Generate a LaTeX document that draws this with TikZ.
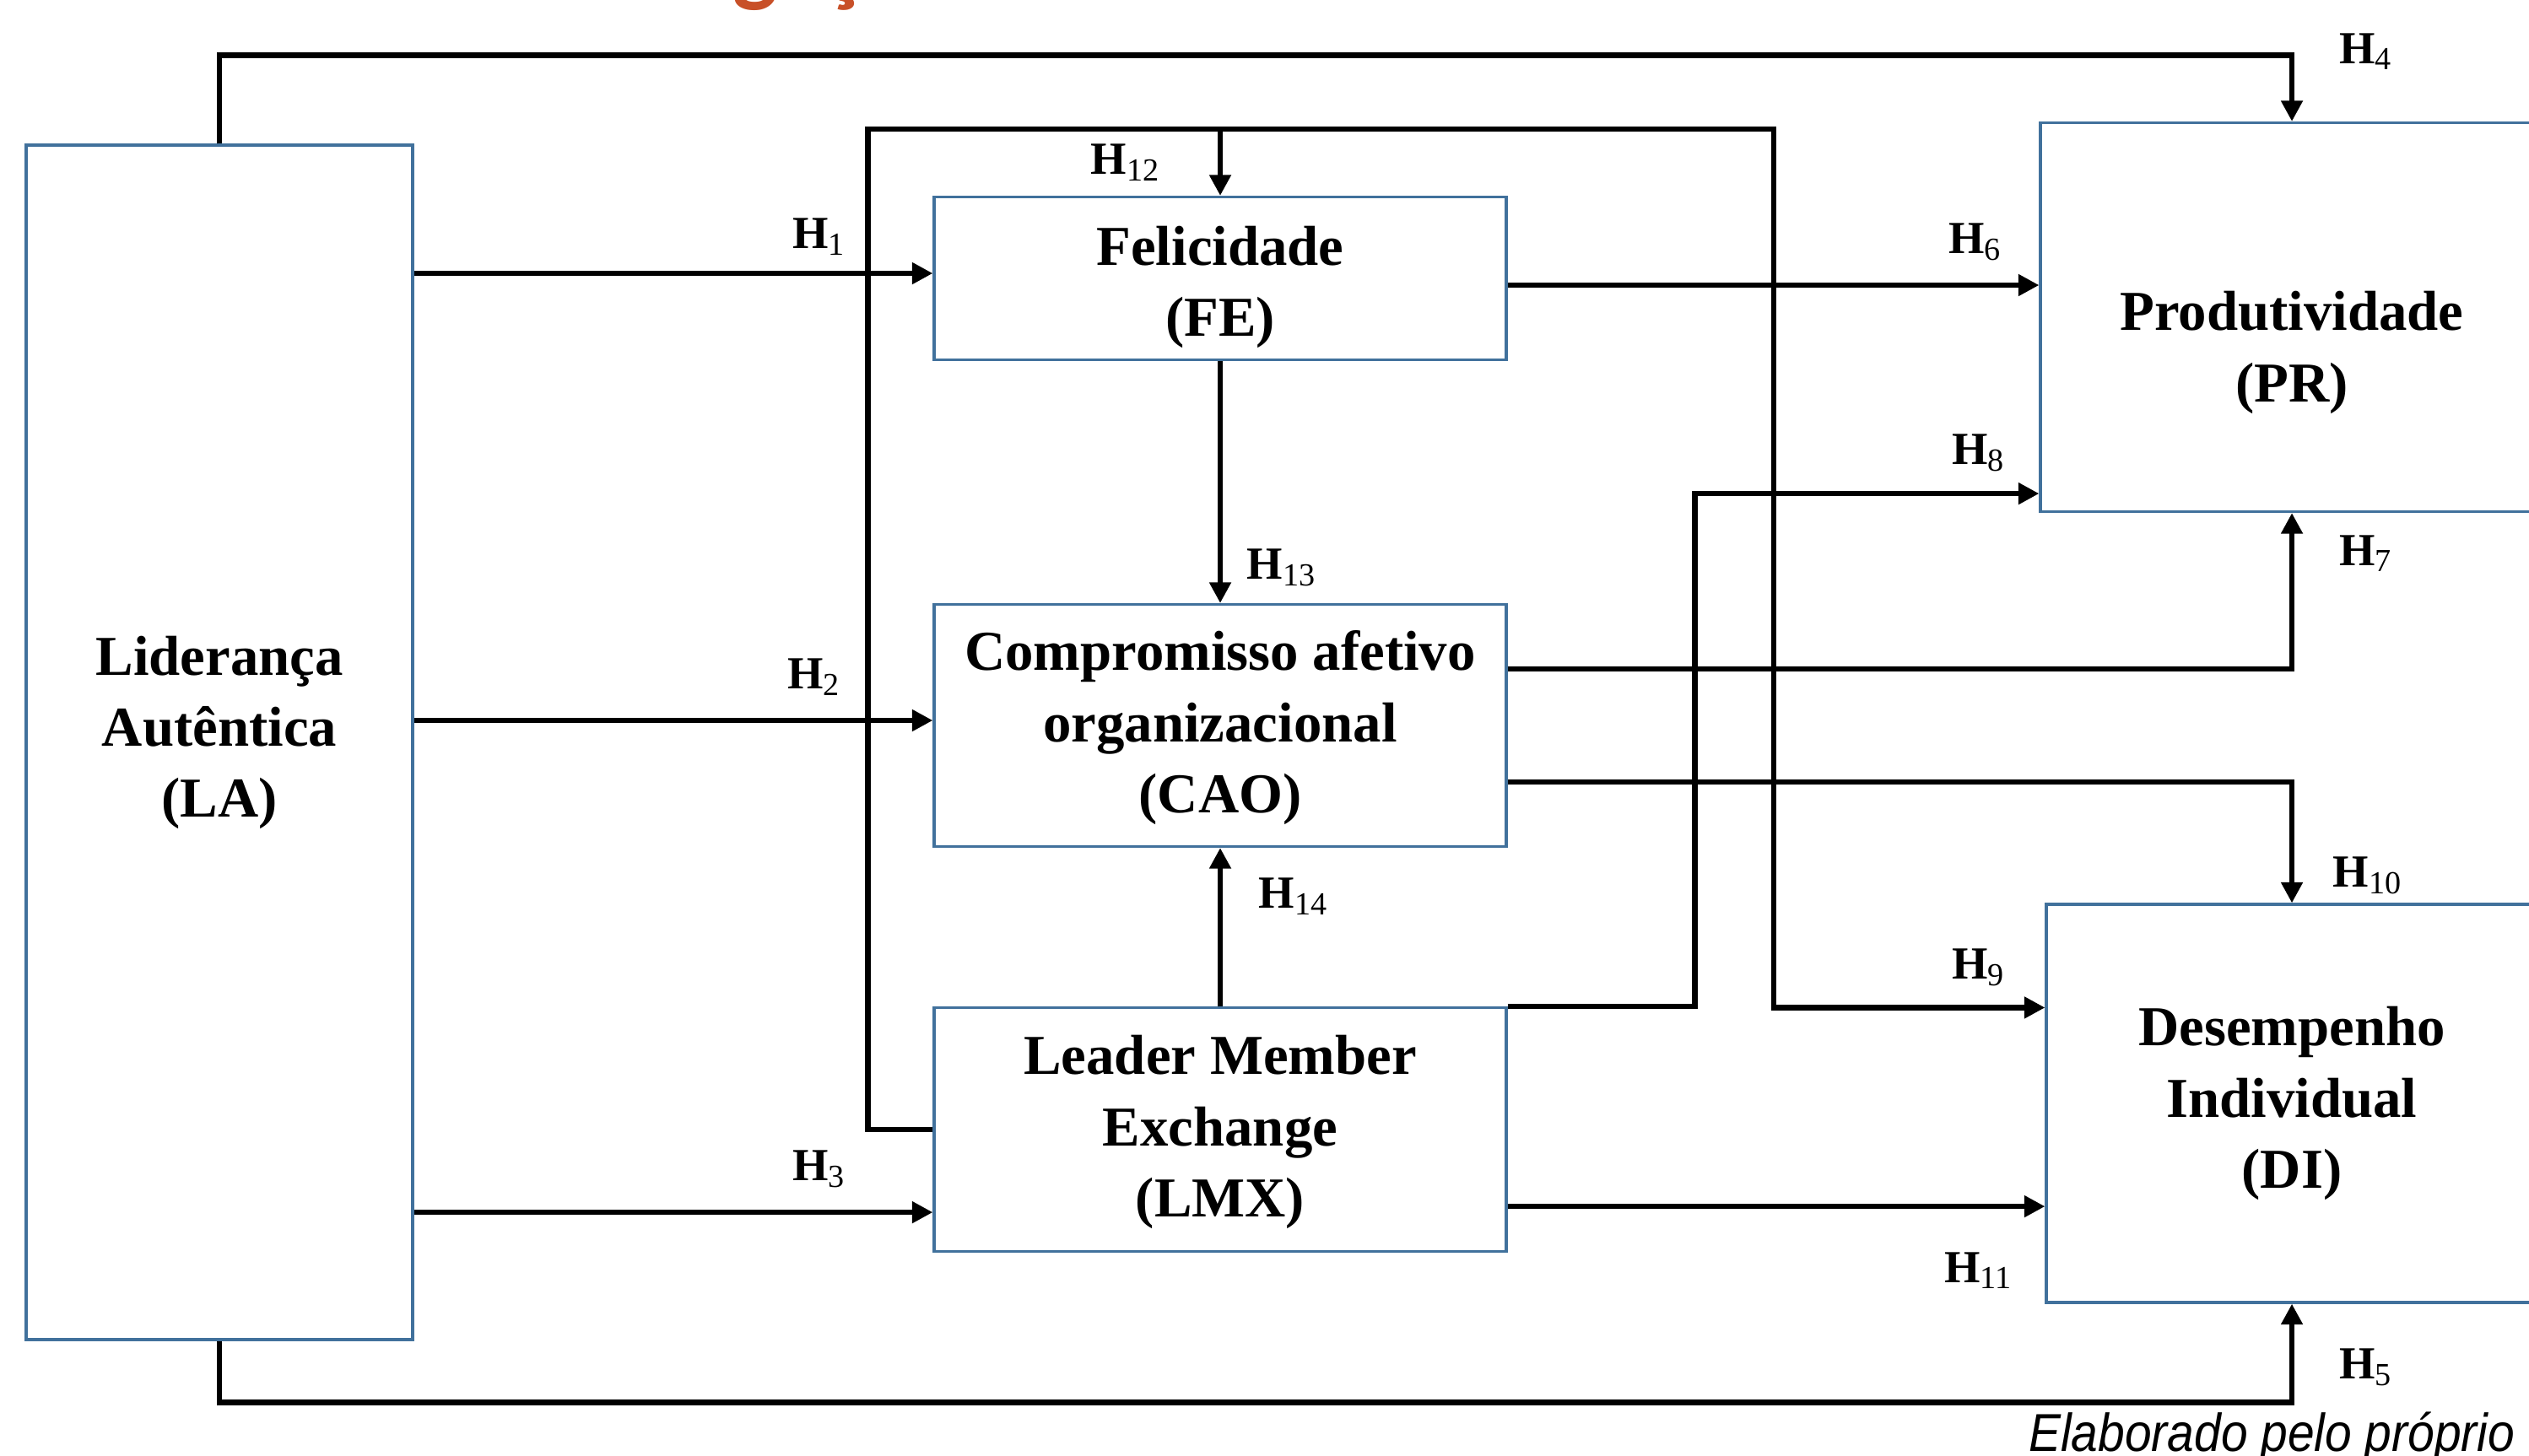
\documentclass[tikz,border=0pt]{standalone}
\usepackage{fontspec}
\setmainfont{Liberation Serif}
\newfontfamily\footfont{Liberation Sans}
\newfontfamily\titlefont{Carlito}
\usetikzlibrary{calc, arrows.meta}
\definecolor{boxblue}{RGB}{65,113,156}
\definecolor{titleorange}{RGB}{200,80,40}
\newcommand{\hyplabel}[1]{\textbf{H}\textsubscript{#1}}

\begin{document}
\begin{tikzpicture}[y=-1cm,
            box/.style={draw=boxblue, line width=0.9pt, align=center, inner sep=0pt,
                font=\fontsize{19}{24}\selectfont\bfseries},
            conn/.style={line width=1.8pt, -{Triangle[length=7pt,width=7pt]}},
            hyp/.style={inner sep=0pt, font=\fontsize{15.5}{17}\selectfont}]
            \useasboundingbox (0,0) rectangle (29.97,17.25);
            \clip (0,0) rectangle (29.97,17.25);
            % variables
            \node[box, minimum width=4.58cm, minimum height=14.16cm] (LA) at (2.60,8.80) {Liderança\\Autêntica\\(LA)\rule[-10.6pt]{0pt}{10.6pt}};
            \node[box, minimum width=6.78cm, minimum height=1.93cm] (FE) at (14.46,3.30) {\rule{0pt}{19pt}Felicidade\\(FE)};
            \node[box, minimum width=6.78cm, minimum height=2.87cm] (CAO) at (14.46,8.60) {\rule{0pt}{15pt}Compromisso afetivo\\organizacional\\(CAO)};
            \node[box, minimum width=6.78cm, minimum height=2.89cm] (LMX) at (14.46,13.39) {\rule{0pt}{15pt}Leader Member\\Exchange\\(LMX)};
            \node[box, minimum width=5.96cm, minimum height=4.61cm] (PR) at (27.16,3.76) {\rule{0pt}{37pt}Produtividade\\(PR)};
            \node[box, minimum width=5.82cm, minimum height=4.72cm] (DI) at (27.16,13.08) {Desempenho\\Individual\\(DI)};
            \coordinate (h1end) at ([yshift=0.06cm]FE.west);
            \coordinate (h2end) at ([yshift=0.06cm]CAO.west);
            \coordinate (h3end) at ([yshift=0.48cm]LMX.south west);
            \coordinate (h6start) at ([yshift=-0.08cm]FE.east);
            \coordinate (h11start) at ([yshift=0.55cm]LMX.south east);
            % hypotheses
            \draw[conn] (LA.north) -- ++(0,-1.05) -| (PR.north);
            \draw[conn] (LA.south) -- ++(0,0.73) -| (DI.south);
            \draw[conn] (LA.east |- h1end) -- (h1end);
            \draw[conn] (LA.east |- h2end) -- (h2end);
            \draw[conn] (LA.east |- h3end) -- (h3end);
            \draw[conn] (h6start) -- (PR.west |- h6start);
            \draw[conn] ([yshift=-0.78cm]CAO.north east) -| (PR.south);
            \draw[conn] ([yshift=0.78cm]CAO.south east) -| (DI.north);
            \draw[conn] (LMX.north east) -- ++(2.22,0) |- ([yshift=0.23cm]PR.south west);
            \draw[conn] (LMX.west) -- ++(-0.77,0) |- (21.02,1.53) |- ([yshift=-1.24cm]DI.north west);
            \draw[conn] (FE.north |- 0,1.53) -- (FE.north);
            \draw[conn] (FE.south) -- (CAO.north);
            \draw[conn] (LMX.north) -- (CAO.south);
            \draw[conn] (h11start) -- (DI.west |- h11start);
            % labels
            \node[hyp] (h1) at (9.71,2.81) {\hyplabel{1}};
            \node[hyp] (h2) at (9.65,8.03) {\hyplabel{2}};
            \node[hyp] (h3) at (9.71,13.86) {\hyplabel{3}};
            \node[hyp] (h4) at (28.04,0.61) {\hyplabel{4}};
            \node[hyp] (h5) at (28.04,16.21) {\hyplabel{5}};
            \node[hyp] (h6) at (23.41,2.87) {\hyplabel{6}};
            \node[hyp] (h7) at (28.04,6.56) {\hyplabel{7}};
            \node[hyp] (h8) at (23.45,5.37) {\hyplabel{8}};
            \node[hyp] (h9) at (23.45,11.47) {\hyplabel{9}};
            \node[hyp] (h10) at (28.06,10.38) {\hyplabel{10}};
            \node[hyp] (h11) at (23.45,15.06) {\hyplabel{11}};
            \node[hyp] (h12) at (13.34,1.93) {\hyplabel{12}};
            \node[hyp] (h13) at (15.19,6.73) {\hyplabel{13}};
            \node[hyp] (h14) at (15.33,10.63) {\hyplabel{14}};
            % title and source
            \node[anchor=base west, inner sep=0pt, text=titleorange, font=\titlefont\bfseries\fontsize{32}{38}\selectfont] (title) at (5.61,-0.07) {Investigação};
            \node[anchor=base east, inner sep=0pt, font=\footfont\itshape\fontsize{18}{22}\selectfont] (src) at (29.81,17.20) {\scalebox{0.9}[1]{Elaborado pelo próprio}};
        \end{tikzpicture}
\end{document}
